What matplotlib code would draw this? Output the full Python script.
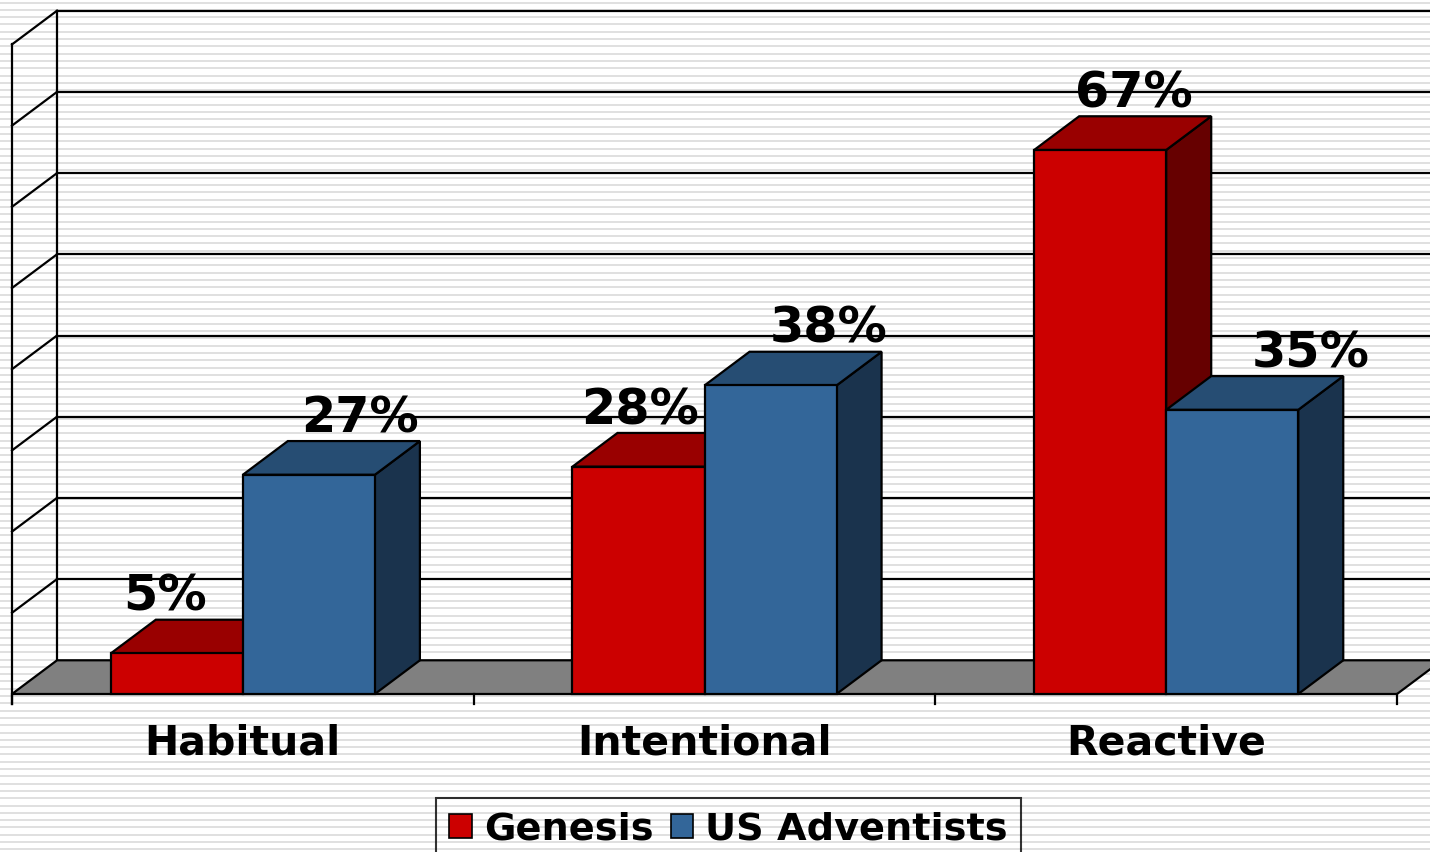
import numpy as np
import matplotlib.pyplot as plt
from matplotlib.patches import Polygon, Patch

plt.rcParams['font.family'] = ['DejaVu Sans']

categories = ['Habitual', 'Intentional', 'Reactive']
series = ['Genesis', 'US Adventists']
genesis = [5, 28, 67]
us_adventists = [27, 38, 35]
grid_values = [0, 10, 20, 30, 40, 50, 60, 70, 80]

front_colors = ['#cc0000', '#336699']
top_colors = ['#990000', '#264d73']
side_colors = ['#660000', '#1a334d']

# sideways nudge of each value label, in category units
label_shift = [[-0.026, 0.004, 0.074], [0.11, 0.126, 0.169]]

W = 0.286            # bar width (category units)
DX, DY = 0.0975, 4.15  # 3D depth offset (x in category units, y in %)
LW = 1.6

fig = plt.figure(figsize=(14.3, 8.52), dpi=100)

# striped background
bg = fig.add_axes([0, 0, 1, 1], zorder=0)
bg.set_xlim(0, 1)
bg.set_ylim(852, 0)
bg.hlines(np.arange(2.5, 852, 7.3), 0, 1, color='#e0e0e0', lw=1.4)
bg.axis('off')

ax = fig.add_axes([0, 0, 1, 1], zorder=1)
ax.patch.set_alpha(0)
ax.set_xlim(-0.526, 2.5714)
ax.set_ylim(-19.46, 85.47)
ax.axis('off')

x_left, x_right = -0.5, len(categories) - 0.5
top = grid_values[-1]

# back wall gridlines and left wall diagonals
for v in grid_values[1:]:
    ax.plot([x_left + DX, x_right + 1], [v + DY, v + DY], color='black', lw=LW, zorder=1)
    ax.plot([x_left, x_left + DX], [v, v + DY], color='black', lw=LW, zorder=1)
ax.plot([x_left, x_left], [-1.25, top], color='black', lw=LW, zorder=1)
ax.plot([x_left + DX, x_left + DX], [DY, top + DY], color='black', lw=LW, zorder=1)

# floor
floor = Polygon([(x_left, 0), (x_right, 0), (x_right + DX, DY), (x_left + DX, DY)],
                closed=True, facecolor='#808080', edgecolor='black', lw=LW, zorder=2)
ax.add_patch(floor)

# category tick marks under the floor
for t in np.arange(x_left, x_right + 0.01, 1.0):
    ax.plot([t, t], [0, -1.25], color='black', lw=LW, zorder=2)


def draw_bar(x0, v, j):
    side = [(x0 + W, 0), (x0 + W + DX, DY), (x0 + W + DX, v + DY), (x0 + W, v)]
    lid = [(x0, v), (x0 + W, v), (x0 + W + DX, v + DY), (x0 + DX, v + DY)]
    front = [(x0, 0), (x0 + W, 0), (x0 + W, v), (x0, v)]
    for pts, col in ((side, side_colors[j]), (lid, top_colors[j]), (front, front_colors[j])):
        ax.add_patch(Polygon(pts, closed=True, facecolor=col, edgecolor='black',
                             lw=LW, joinstyle='miter', zorder=3))


values = [genesis, us_adventists]
for i in range(len(categories)):
    for j in range(len(series)):
        v = values[j][i]
        x0 = i - W + j * W
        draw_bar(x0, v, j)
        ax.text(x0 + W / 2 + label_shift[j][i], v + DY + 1.1, f'{v}%',
                ha='center', va='baseline', fontsize=35.5, fontweight='bold', zorder=5)

for i, cat in enumerate(categories):
    ax.text(i, -7.4, cat, ha='center', va='baseline', fontsize=29.5, fontweight='bold')

handles = [Patch(facecolor=front_colors[j], edgecolor='black', lw=1.2, label=series[j])
           for j in range(len(series))]
leg = ax.legend(handles=handles, loc='upper left', bbox_to_anchor=(436 / 1430, 1 - 798 / 852),
                ncol=2, prop={'weight': 'bold', 'size': 27.5},
                frameon=True, fancybox=False, borderaxespad=0, borderpad=0.35,
                handlelength=0.6, handleheight=0.6, handletextpad=0.3, columnspacing=0.45)
leg.get_frame().set_edgecolor('black')
leg.get_frame().set_linewidth(1.5)
leg.get_frame().set_facecolor('none')

fig.savefig('out.png', dpi=100)
